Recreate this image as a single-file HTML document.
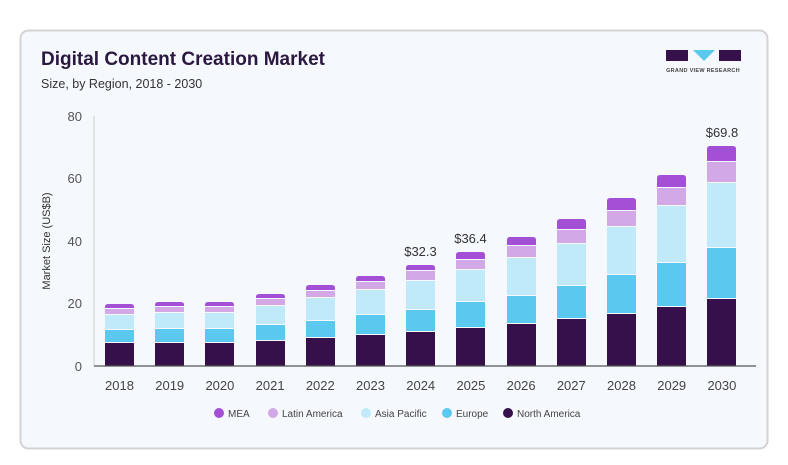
<!DOCTYPE html>
<html><head><meta charset="utf-8"><style>
body{margin:0;background:#fff;}
svg{display:block;font-family:"Liberation Sans",sans-serif;}
.a{fill:#a350d6}.b{fill:#d3a8e6}.c{fill:#c0eafa}.d{fill:#5bc8f0}.e{fill:#35104a}
</style></head><body>
<svg width="788" height="465" xmlns="http://www.w3.org/2000/svg">
<rect x="20.5" y="30.5" width="747" height="418" rx="8" fill="#f5f8fc" stroke="#d3d3d6" stroke-width="2"/>
<text x="41" y="65" font-size="19" font-weight="bold" fill="#2a1840">Digital Content Creation Market</text>
<text x="41" y="88" font-size="12.5" fill="#333">Size, by Region, 2018 - 2030</text>
<g>
<rect x="666" y="50" width="22" height="11" fill="#35104a"/>
<polygon points="693,50 715,50 704,61" fill="#5bc8f0"/>
<rect x="719" y="50" width="22" height="11" fill="#35104a"/>
<text x="703" y="72" font-size="5.5" font-weight="bold" fill="#444" text-anchor="middle" letter-spacing="0.3">GRAND VIEW RESEARCH</text>
</g>
<line x1="94" y1="116" x2="94" y2="366" stroke="#ccc"/>
<g font-size="13" fill="#555" text-anchor="end">
<text x="82" y="121">80</text><text x="82" y="183">60</text><text x="82" y="246">40</text><text x="82" y="308">20</text><text x="82" y="371">0</text>
</g>
<text transform="translate(50,241) rotate(-90)" font-size="11" fill="#333" text-anchor="middle">Market Size (US$B)</text>

<g transform="translate(105,0)"><path class="a" d="M0,308V307q0,-3 3,-3h23q3,0 3,3V308z"/><rect class="b" y="309" width="29" height="5"/><rect class="c" y="315" width="29" height="14"/><rect class="d" y="330" width="29" height="12"/><rect class="e" y="343" width="29" height="23"/></g>
<g transform="translate(155,0)"><path class="a" d="M0,306V305q0,-3 3,-3h23q3,0 3,3V306z"/><rect class="b" y="307" width="29" height="5"/><rect class="c" y="313" width="29" height="15"/><rect class="d" y="329" width="29" height="13"/><rect class="e" y="343" width="29" height="23"/></g>
<g transform="translate(205,0)"><path class="a" d="M0,306V305q0,-3 3,-3h23q3,0 3,3V306z"/><rect class="b" y="307" width="29" height="5"/><rect class="c" y="313" width="29" height="15"/><rect class="d" y="329" width="29" height="13"/><rect class="e" y="343" width="29" height="23"/></g>
<g transform="translate(256,0)"><path class="a" d="M0,298V297q0,-3 3,-3h23q3,0 3,3V298z"/><rect class="b" y="299" width="29" height="6"/><rect class="c" y="306" width="29" height="18"/><rect class="d" y="325" width="29" height="15"/><rect class="e" y="341" width="29" height="25"/></g>
<g transform="translate(306,0)"><path class="a" d="M0,290V288q0,-3 3,-3h23q3,0 3,3V290z"/><rect class="b" y="291" width="29" height="6"/><rect class="c" y="298" width="29" height="22"/><rect class="d" y="321" width="29" height="16"/><rect class="e" y="338" width="29" height="28"/></g>
<g transform="translate(356,0)"><path class="a" d="M0,281V279q0,-3 3,-3h23q3,0 3,3V281z"/><rect class="b" y="282" width="29" height="7"/><rect class="c" y="290" width="29" height="24"/><rect class="d" y="315" width="29" height="19"/><rect class="e" y="335" width="29" height="31"/></g>
<g transform="translate(406,0)"><path class="a" d="M0,270V268q0,-3 3,-3h23q3,0 3,3V270z"/><rect class="b" y="271" width="29" height="9"/><rect class="c" y="281" width="29" height="28"/><rect class="d" y="310" width="29" height="21"/><rect class="e" y="332" width="29" height="34"/></g>
<g transform="translate(456,0)"><path class="a" d="M0,259V255q0,-3 3,-3h23q3,0 3,3V259z"/><rect class="b" y="260" width="29" height="9"/><rect class="c" y="270" width="29" height="31"/><rect class="d" y="302" width="29" height="25"/><rect class="e" y="328" width="29" height="38"/></g>
<g transform="translate(507,0)"><path class="a" d="M0,245V240q0,-3 3,-3h23q3,0 3,3V245z"/><rect class="b" y="246" width="29" height="11"/><rect class="c" y="258" width="29" height="37"/><rect class="d" y="296" width="29" height="27"/><rect class="e" y="324" width="29" height="42"/></g>
<g transform="translate(557,0)"><path class="a" d="M0,229V222q0,-3 3,-3h23q3,0 3,3V229z"/><rect class="b" y="230" width="29" height="13"/><rect class="c" y="244" width="29" height="41"/><rect class="d" y="286" width="29" height="32"/><rect class="e" y="319" width="29" height="47"/></g>
<g transform="translate(607,0)"><path class="a" d="M0,210V201q0,-3 3,-3h23q3,0 3,3V210z"/><rect class="b" y="211" width="29" height="15"/><rect class="c" y="227" width="29" height="47"/><rect class="d" y="275" width="29" height="38"/><rect class="e" y="314" width="29" height="52"/></g>
<g transform="translate(657,0)"><path class="a" d="M0,187V178q0,-3 3,-3h23q3,0 3,3V187z"/><rect class="b" y="188" width="29" height="17"/><rect class="c" y="206" width="29" height="56"/><rect class="d" y="263" width="29" height="43"/><rect class="e" y="307" width="29" height="59"/></g>
<g transform="translate(707,0)"><path class="a" d="M0,161V149q0,-3 3,-3h23q3,0 3,3V161z"/><rect class="b" y="162" width="29" height="20"/><rect class="c" y="183" width="29" height="64"/><rect class="d" y="248" width="29" height="50"/><rect class="e" y="299" width="29" height="67"/></g>

<line x1="94" y1="366" x2="756" y2="366" stroke="#555" stroke-width="1.2"/>
<g font-size="13" fill="#333" text-anchor="middle">
<text x="420.5" y="256">$32.3</text><text x="470.5" y="243">$36.4</text><text x="722" y="137">$69.8</text>
</g>
<g font-size="13" fill="#444" text-anchor="middle">
<text x="119.5" y="390">2018</text><text x="169.7" y="390">2019</text><text x="219.9" y="390">2020</text><text x="270.1" y="390">2021</text><text x="320.3" y="390">2022</text><text x="370.5" y="390">2023</text><text x="420.7" y="390">2024</text><text x="470.9" y="390">2025</text><text x="521.1" y="390">2026</text><text x="571.3" y="390">2027</text><text x="621.5" y="390">2028</text><text x="671.7" y="390">2029</text><text x="721.9" y="390">2030</text>
</g>
<g font-size="10" fill="#444">
<circle cx="219" cy="413" r="5" fill="#a350d6"/><text x="228" y="417">MEA</text>
<circle cx="273" cy="413" r="5" fill="#d3a8e6"/><text x="282" y="417">Latin America</text>
<circle cx="366" cy="413" r="5" fill="#c0eafa"/><text x="375" y="417">Asia Pacific</text>
<circle cx="447" cy="413" r="5" fill="#5bc8f0"/><text x="456" y="417">Europe</text>
<circle cx="508" cy="413" r="5" fill="#35104a"/><text x="517" y="417">North America</text>
</g>
</svg>
</body></html>
